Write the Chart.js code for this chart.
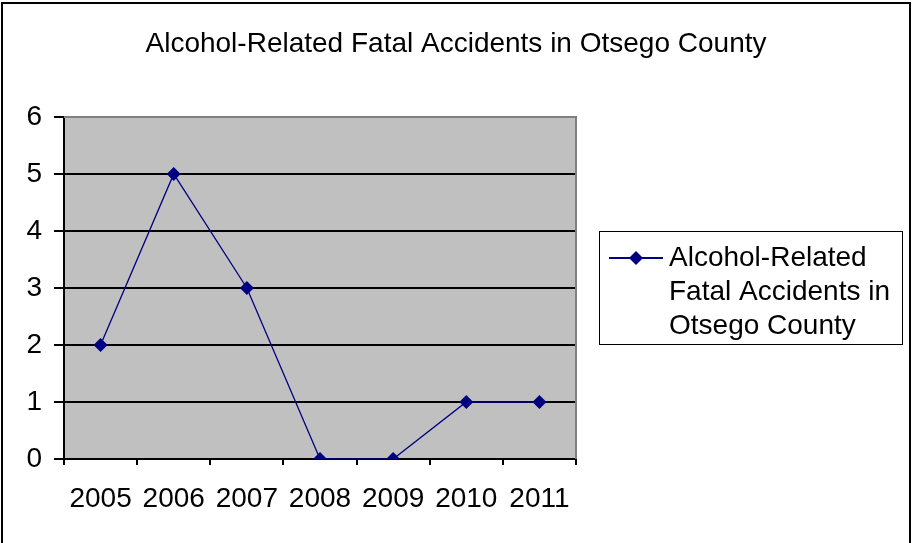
<!DOCTYPE html>
<html lang="en">
<head>
  <meta charset="UTF-8">
  <title>Alcohol-Related Fatal Accidents in Otsego County</title>
  <script src="https://cdn.jsdelivr.net/npm/chart.js@4"></script>
  <style>
    html, body { margin: 0; padding: 0; background: #ffffff; }
    #wrap { width: 912px; height: 543px; position: relative; }
  </style>
</head>
<body>
  <div id="wrap"><canvas id="chart" width="912" height="543"></canvas></div>

  <script>
    const chartTitle = "Alcohol-Related Fatal Accidents in Otsego County";
    const years = ["2005", "2006", "2007", "2008", "2009", "2010", "2011"];
    const accidents = [2, 5, 3, 0, 0, 1, 1];
    const legendLines = ["Alcohol-Related", "Fatal Accidents in", "Otsego County"];
    const yTicks = [0, 1, 2, 3, 4, 5, 6];

    const fontFamily = "'Liberation Sans', Arial, sans-serif";
    const navy = "#000080";

    // gray plot background, gray top/right frame, outer border, title and legend
    const excelLook = {
      id: "excelLook",
      beforeDraw(chart) {
        const { ctx, chartArea: a } = chart;
        ctx.save();
        ctx.fillStyle = "#c0c0c0";
        ctx.fillRect(a.left, a.top, a.right - a.left, a.bottom - a.top);
        ctx.restore();
      },
      afterDraw(chart) {
        const { ctx, chartArea: a } = chart;
        ctx.save();
        // top and right frame of plot area
        ctx.strokeStyle = "#808080";
        ctx.lineWidth = 2;
        ctx.beginPath();
        ctx.moveTo(a.left, a.top);
        ctx.lineTo(a.right, a.top);
        ctx.lineTo(a.right, a.bottom);
        ctx.stroke();

        // outer chart border
        ctx.strokeStyle = "#000000";
        ctx.lineWidth = 2;
        ctx.strokeRect(2, 3, 908, 560);

        // title
        ctx.fillStyle = "#000000";
        ctx.font = "28px " + fontFamily;
        ctx.textAlign = "center";
        ctx.textBaseline = "middle";
        ctx.fillText(chartTitle, 456, 44);

        // legend
        ctx.lineWidth = 1;
        ctx.strokeStyle = "#000000";
        ctx.strokeRect(599.5, 231.5, 303, 113);
        const y0 = 258;
        ctx.strokeStyle = navy;
        ctx.lineWidth = 2;
        ctx.beginPath();
        ctx.moveTo(609, y0);
        ctx.lineTo(663, y0);
        ctx.stroke();
        ctx.fillStyle = navy;
        ctx.beginPath();
        ctx.moveTo(636, y0 - 7);
        ctx.lineTo(643, y0);
        ctx.lineTo(636, y0 + 7);
        ctx.lineTo(629, y0);
        ctx.closePath();
        ctx.fill();
        ctx.fillStyle = "#000000";
        ctx.font = "28px " + fontFamily;
        ctx.textAlign = "left";
        legendLines.forEach((t, i) => ctx.fillText(t, 669, y0 + i * 34));
        ctx.restore();
      }
    };

    new Chart(document.getElementById("chart"), {
      type: "line",
      data: {
        labels: years,
        datasets: [{
          label: legendLines.join(" "),
          data: accidents,
          borderColor: navy,
          backgroundColor: navy,
          borderWidth: 1.3,
          pointStyle: "rectRot",
          pointRadius: 7,
          pointHoverRadius: 7,
          pointBorderWidth: 0,
          tension: 0,
          fill: false
        }]
      },
      options: {
        responsive: false,
        animation: false,
        layout: { padding: { top: 117, right: 336, left: 0, bottom: 0 } },
        plugins: {
          legend: { display: false },
          title: { display: false },
          tooltip: { enabled: false }
        },
        scales: {
          x: {
            offset: true,
            afterFit: s => { s.height = 84; },
            grid: {
              offset: true,
              drawOnChartArea: false,
              drawTicks: true,
              tickLength: 6,
              color: "#000000",
              lineWidth: 2
            },
            border: { color: "#000000", width: 2 },
            ticks: {
              color: "#000000",
              font: { family: fontFamily, size: 28 },
              padding: 17,
              maxRotation: 0,
              autoSkip: false
            }
          },
          y: {
            min: 0,
            max: 6,
            afterFit: s => { s.width = 64; },
            afterBuildTicks: s => { s.ticks = yTicks.map(v => ({ value: v })); },
            grid: {
              color: "#000000",
              lineWidth: 2,
              tickLength: 10
            },
            border: { color: "#000000", width: 2 },
            ticks: {
              color: "#000000",
              font: { family: fontFamily, size: 28 },
              padding: 12
            }
          }
        }
      },
      plugins: [excelLook]
    });
  </script>
</body>
</html>
